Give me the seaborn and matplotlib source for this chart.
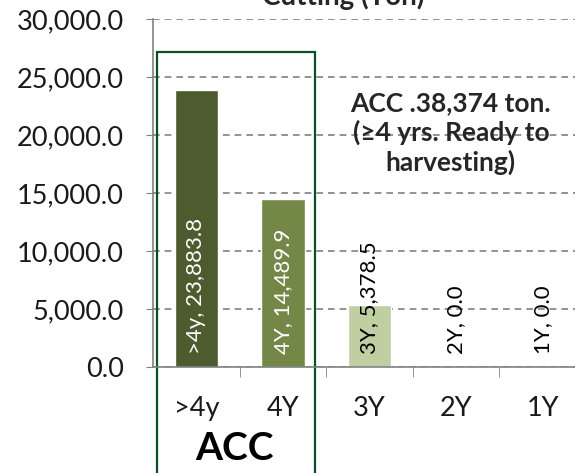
import matplotlib
matplotlib.use("Agg")
import matplotlib.pyplot as plt
import seaborn as sns
import pandas as pd
from matplotlib.patches import Rectangle
from matplotlib.ticker import FuncFormatter

# Data
categories = [">4y", "4Y", "3Y", "2Y", "1Y"]
values = [23883.8, 14489.9, 5378.5, 0.0, 0.0]
bar_colors = ["#4F6228", "#77933C", "#C3D69B", "#9BBB59", "#9BBB59"]
label_colors = ["white", "white", "black", "black", "black"]
title = "Cutting (Ton)"
note = "ACC .38,374 ton.\n(≥4 yrs. Ready to\nharvesting)"
group_label = "ACC"

df = pd.DataFrame({"age": categories, "ton": values})

sns.set_style("white")
plt.rcParams["font.family"] = ["Lato", "DejaVu Sans"]

fig = plt.figure(figsize=(5.75, 4.73), dpi=100)
ax = fig.add_axes([153 / 575, 106 / 473, 433 / 575, 348 / 473])

sns.barplot(data=df, x="age", y="ton", hue="age", palette=bar_colors,
            dodge=False, width=0.5, legend=False, ax=ax)

ax.set_xlim(-0.5, 4.5)
ax.set_ylim(0, 30000)
ax.set_yticks(range(0, 30001, 5000))
ax.yaxis.set_major_formatter(FuncFormatter(lambda v, p: f"{v:,.1f}"))
ax.tick_params(axis="y", labelsize=19.5, colors="#808080", labelcolor="#1a1a1a",
               length=5, pad=16, left=True)
ax.tick_params(axis="x", which="major", labelsize=19.5, labelcolor="#1a1a1a",
               length=0, pad=21)
ax.set_xticks([0.5, 1.5, 2.5, 3.5], minor=True)
ax.tick_params(axis="x", which="minor", length=7, color="#808080", bottom=True)
ax.set_xlabel("")
ax.set_ylabel("")

ax.grid(axis="y", linestyle=(0, (4, 3)), color="#808080", linewidth=1.2)
ax.set_axisbelow(True)
for s in ["top", "right"]:
    ax.spines[s].set_visible(False)
for s in ["left", "bottom"]:
    ax.spines[s].set_color("#808080")
    ax.spines[s].set_linewidth(1.2)

# data labels, rotated, anchored at bar base
for i, (c, v) in enumerate(zip(categories, values)):
    ax.text(i, 1100, f"{c}, {v:,.1f}", rotation=90, ha="center", va="bottom",
            color=label_colors[i], fontsize=16)

ax.text(2.94, 20170, note, ha="center", va="center", fontsize=19,
        fontweight="bold", linespacing=1.2)

# group box around ACC bars
ax.add_patch(Rectangle((-0.45, -12000), 1.82, 12000 + 27150, fill=False,
                       edgecolor="#0B4F2A", linewidth=1.6, clip_on=False))
ax.text(0.44, -7000, group_label, ha="center", va="center", fontsize=28,
        fontweight="bold", color="black")

fig.text(343 / 575, 1 - 5 / 473, title, ha="center", va="baseline",
         fontsize=20, fontweight="bold")

fig.savefig("out.png", dpi=100)
